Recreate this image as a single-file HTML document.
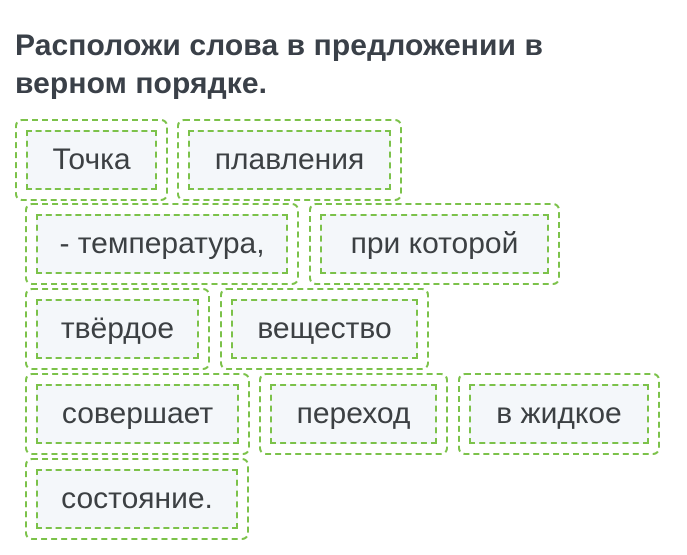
<!DOCTYPE html>
<html><head><meta charset="utf-8"><style>
body{margin:0;width:687px;height:555px;background:#fff;position:relative;overflow:hidden;font-family:"Liberation Sans","DejaVu Sans",sans-serif}
.t{position:absolute;left:15px;top:27px;font-size:30px;font-weight:bold;color:#3a4048;line-height:38px;letter-spacing:0.1px}
.o{position:absolute;border:2px dashed #7cc24a;border-radius:7px;box-sizing:border-box;height:82px}
.i{position:absolute;left:9px;right:9px;top:9px;bottom:9px;border:2px dashed #7cc24a;background:#f4f7fa;box-sizing:border-box;display:flex;align-items:center;justify-content:center;font-size:30px;color:#3c4043}
</style></head><body>
<div class="t">Расположи слова в предложении в<br>верном порядке.</div>
<div class="o" style="left:15px;top:119px;width:153px"><div class="i">Точка</div></div>
<div class="o" style="left:177px;top:119px;width:225px"><div class="i">плавления</div></div>
<div class="o" style="left:25px;top:203px;width:274px"><div class="i">- температура,</div></div>
<div class="o" style="left:309px;top:203px;width:251px"><div class="i">при которой</div></div>
<div class="o" style="left:25px;top:288px;width:185px"><div class="i">твёрдое</div></div>
<div class="o" style="left:220px;top:288px;width:209px"><div class="i">вещество</div></div>
<div class="o" style="left:25px;top:373px;width:225px"><div class="i">совершает</div></div>
<div class="o" style="left:259px;top:373px;width:189px"><div class="i">переход</div></div>
<div class="o" style="left:458px;top:373px;width:202px"><div class="i">в жидкое</div></div>
<div class="o" style="left:25px;top:458px;width:224px"><div class="i">состояние.</div></div>
</body></html>
